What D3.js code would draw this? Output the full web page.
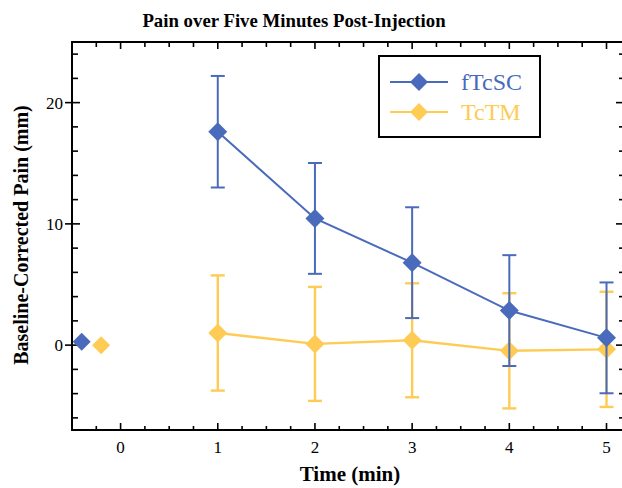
<!DOCTYPE html>
<html>
<head>
<meta charset="utf-8">
<script src="https://cdn.jsdelivr.net/npm/d3@7"></script>
<style>
  body { margin: 0; background: #fff; }
  svg { display: block; font-family: "Liberation Serif", "Times New Roman", serif; }
</style>
</head>
<body>
<div id="chart"></div>
<script>
var width = 622, height = 488;
var margin = {top: 42, left: 72, right: -2, bottom: 58};

// data
var times = [1, 2, 3, 4, 5];
var ftcscMean = [17.6, 10.45, 6.8, 2.85, 0.6];
var ftcscErr = [4.6, 4.57, 4.57, 4.57, 4.57];
var tctmMean = [1.0, 0.1, 0.4, -0.47, -0.35];
var tctmErr = [4.75, 4.7, 4.7, 4.75, 4.75];
// pre-injection baseline points (drawn offset left of 0)
var baseTimes = [-0.4, -0.2];
var baseValues = [0.27, 0];
var seriesNames = ['fTcSC', 'TcTM'];
var seriesColors = ['#4a6bbb', '#fecb55'];
var xTicks = [0, 1, 2, 3, 4, 5];
var yTicks = [0, 10, 20];

var x = d3.scaleLinear()
    .domain([-0.5, 5.18])
    .range([margin.left, width - margin.right]);

var y = d3.scaleLinear()
    .domain([-7, 25])
    .range([height - margin.bottom, margin.top]);

var svg = d3.select('#chart')
    .append('svg')
    .attr('width', width)
    .attr('height', height);

var x0 = x.range()[0], x1 = x.range()[1];
var y0 = y.range()[0], y1 = y.range()[1];

// minor ticks
var xMinor = d3.range(-0.25, 5.2, 0.25).filter(function(d){ return Math.abs(d - Math.round(d)) > 0.01 });
var yMinor = d3.range(-6, 25, 2).filter(function(d){ return d % 10 != 0 });

var ticks = svg.append('g')
    .attr('stroke', 'black')
    .attr('stroke-width', 1.6);

// bottom + top
xMinor.forEach(function(d){
    ticks.append('line').attr('x1', x(d)).attr('x2', x(d)).attr('y1', y0).attr('y2', y0 - 4);
    ticks.append('line').attr('x1', x(d)).attr('x2', x(d)).attr('y1', y1).attr('y2', y1 + 5);
});
xTicks.forEach(function(d){
    ticks.append('line').attr('x1', x(d)).attr('x2', x(d)).attr('y1', y0 + 1).attr('y2', y0 - 7);
    ticks.append('line').attr('x1', x(d)).attr('x2', x(d)).attr('y1', y1).attr('y2', y1 + 7);
});
// left + right
yMinor.forEach(function(d){
    ticks.append('line').attr('x1', x0).attr('x2', x0 + 6).attr('y1', y(d)).attr('y2', y(d));
    ticks.append('line').attr('x1', x1).attr('x2', x1 - 5).attr('y1', y(d)).attr('y2', y(d));
});
yTicks.forEach(function(d){
    ticks.append('line').attr('x1', x0 - 7).attr('x2', x0 + 8).attr('y1', y(d)).attr('y2', y(d));
    ticks.append('line').attr('x1', x1).attr('x2', x1 - 8).attr('y1', y(d)).attr('y2', y(d));
});

// frame
svg.append('rect')
    .attr('x', x0).attr('y', y1)
    .attr('width', x1 - x0).attr('height', y0 - y1)
    .attr('fill', 'none')
    .attr('stroke', 'black')
    .attr('stroke-width', 2);

// tick labels
svg.selectAll('.xlab')
    .data(xTicks)
    .enter().append('text')
    .attr('class', 'xlab')
    .attr('x', function(d){ return x(d) })
    .attr('y', 453)
    .attr('text-anchor', 'middle')
    .attr('font-size', 17)
    .text(function(d){ return d });

svg.selectAll('.ylab')
    .data(yTicks)
    .enter().append('text')
    .attr('class', 'ylab')
    .attr('x', x0 - 9)
    .attr('y', function(d){ return y(d) + 6 })
    .attr('text-anchor', 'end')
    .attr('font-size', 17)
    .text(function(d){ return d });

// titles
svg.append('text')
    .attr('x', 294).attr('y', 27)
    .attr('text-anchor', 'middle')
    .attr('font-size', 18.8).attr('font-weight', 'bold')
    .text('Pain over Five Minutes Post-Injection');

svg.append('text')
    .attr('x', 350).attr('y', 481)
    .attr('text-anchor', 'middle')
    .attr('font-size', 21).attr('font-weight', 'bold')
    .text('Time (min)');

svg.append('text')
    .attr('transform', 'translate(28,' + 235 + ') rotate(-90)')
    .attr('text-anchor', 'middle')
    .attr('font-size', 20).attr('font-weight', 'bold')
    .text('Baseline-Corrected Pain (mm)');

function diamond(g, cx, cy, r, color){
    g.append('path')
        .attr('d', 'M' + cx + ' ' + (cy - r) + ' L' + (cx + r) + ' ' + cy + ' L' + cx + ' ' + (cy + r) + ' L' + (cx - r) + ' ' + cy + ' Z')
        .attr('fill', color);
}

function drawSeries(means, errs, color, lw){
    var g = svg.append('g');
    // error bars
    times.forEach(function(t, i){
        var xt = x(t);
        var top = y(means[i] + errs[i]), bot = y(means[i] - errs[i]);
        g.append('line').attr('x1', xt).attr('x2', xt).attr('y1', top).attr('y2', bot)
            .attr('stroke', color).attr('stroke-width', lw);
        g.append('line').attr('x1', xt - 7).attr('x2', xt + 7).attr('y1', top).attr('y2', top)
            .attr('stroke', color).attr('stroke-width', lw);
        g.append('line').attr('x1', xt - 7).attr('x2', xt + 7).attr('y1', bot).attr('y2', bot)
            .attr('stroke', color).attr('stroke-width', lw);
    });
    var line = d3.line()
        .x(function(d){ return x(d[0]) })
        .y(function(d){ return y(d[1]) });
    g.append('path')
        .attr('d', line(d3.zip(times, means)))
        .attr('fill', 'none')
        .attr('stroke', color)
        .attr('stroke-width', lw);
    times.forEach(function(t, i){
        diamond(g, x(t), y(means[i]), 9.5, color);
    });
}

drawSeries(tctmMean, tctmErr, seriesColors[1], 2.4);
drawSeries(ftcscMean, ftcscErr, seriesColors[0], 2);

baseTimes.forEach(function(t, i){
    diamond(svg, x(t), y(baseValues[i]), 9, seriesColors[i]);
});

// legend
var legend = svg.append('g');
legend.append('rect')
    .attr('x', 379).attr('y', 56)
    .attr('width', 161).attr('height', 81)
    .attr('fill', 'white')
    .attr('stroke', 'black')
    .attr('stroke-width', 2);
seriesNames.forEach(function(name, i){
    var ly = 82 + i * 30;
    legend.append('line')
        .attr('x1', 390).attr('x2', 448).attr('y1', ly).attr('y2', ly)
        .attr('stroke', seriesColors[i]).attr('stroke-width', 2.2);
    diamond(legend, 419, ly, 9, seriesColors[i]);
    legend.append('text')
        .attr('x', 461).attr('y', ly + 8)
        .attr('font-size', 24)
        .attr('fill', seriesColors[i])
        .text(name);
});
</script>
</body>
</html>
